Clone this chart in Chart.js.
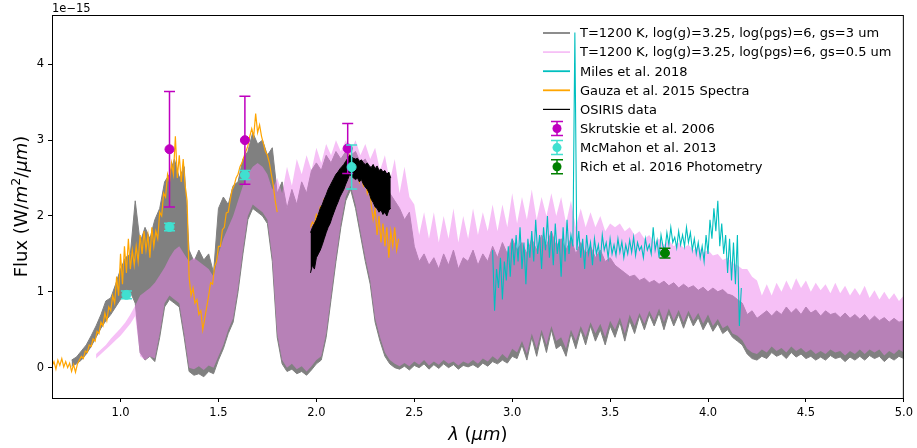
<!DOCTYPE html>
<html>
<head>
<meta charset="utf-8">
<script src="https://cdn.jsdelivr.net/npm/chart.js@4.4.1/dist/chart.umd.min.js"></script>
<style>
  html, body { margin: 0; padding: 0; background: #fff; }
  #wrap { width: 917px; height: 448px; }
</style>
</head>
<body>
<div id="wrap"><canvas id="spectrum" width="917" height="448"></canvas></div>
<script>
// flux in units of 1e-15 W/m^2/um, wavelength in um

// model grids (start wavelength, spacing)
const thickStart = 0.75, thinStart = 0.875, modelStep = 0.025;

// T=1200 K, gs=3 um model: upper / lower envelope of the spectrum
const thickHi = [
  0.10, 0.14, 0.22, 0.30, 0.42, 0.55, 0.70, 0.88, 0.92, 1.10,
  1.30, 1.45, 1.50, 2.20, 1.65, 1.85, 1.70, 1.95, 2.10, 2.45,
  2.55, 2.75, 2.50, 2.65, 1.55, 1.40, 1.55, 1.42, 1.50, 1.25,
  2.10, 2.25, 2.15, 2.40, 2.45, 2.75, 2.85, 3.10, 2.95, 3.00,
  2.80, 2.90, 2.30, 2.45, 2.10, 2.35, 2.15, 2.45, 2.30, 2.60,
  2.70, 2.60, 2.80, 2.70, 2.85, 2.75, 2.85, 2.80, 2.85, 2.70,
  2.75, 2.60, 2.65, 2.45, 2.50, 2.30, 2.20, 2.10, 1.95, 2.05,
  1.60, 1.40, 1.50, 1.35, 1.45, 1.30, 1.50, 1.35, 1.55, 1.30,
  1.45, 1.40, 1.55, 1.35, 1.50, 1.40, 1.60, 1.45, 1.65, 1.50,
  1.70, 1.55, 1.65, 1.50, 1.70, 1.55, 1.75, 1.60, 1.80, 1.60,
  1.70, 1.55, 1.70, 1.50, 1.65, 1.50, 1.60, 1.45, 1.55, 1.40,
  1.45, 1.35, 1.30, 1.25, 1.20, 1.22, 1.15, 1.18, 1.12, 1.15,
  1.10, 1.14, 1.08, 1.12, 1.05, 1.10, 1.05, 1.08, 1.02, 1.06,
  1.00, 1.05, 1.00, 1.03, 0.97, 0.95, 0.90, 0.85, 0.70, 0.75,
  0.65, 0.70, 0.75, 0.68, 0.75, 0.70, 0.80, 0.72, 0.78, 0.70,
  0.80, 0.72, 0.76, 0.68, 0.75, 0.70, 0.72, 0.66, 0.72, 0.65,
  0.70, 0.64, 0.70, 0.62, 0.68, 0.62, 0.66, 0.60, 0.65, 0.60,
  0.62
];
const thickLo = [
  0.02, 0.05, 0.10, 0.18, 0.28, 0.40, 0.52, 0.62, 0.70, 0.80,
  0.90, 0.95, 1.00, 0.85, 0.20, 0.10, 0.15, 0.08, 0.40, 0.80,
  0.90, 0.85, 0.80, 0.40, -0.05, -0.10, -0.08, -0.12, -0.05, -0.08,
  0.10, 0.25, 0.45, 0.60, 1.00, 1.50, 1.95, 2.10, 2.05, 2.00,
  1.90, 1.40, 0.40, 0.05, -0.05, -0.02, -0.08, -0.05, -0.10, -0.03,
  0.05, 0.10, 0.40, 0.90, 1.40, 1.85, 2.20, 2.35, 2.10, 1.75,
  1.40, 1.10, 0.60, 0.35, 0.15, 0.05, 0.00, -0.02, 0.02, -0.03,
  0.03, 0.00, 0.05, -0.02, 0.04, -0.01, 0.05, 0.00, 0.04, -0.02,
  0.03, 0.01, 0.04, 0.00, 0.06, 0.02, 0.08, 0.05, 0.10, 0.06,
  0.15, 0.12, 0.30, 0.10, 0.40, 0.15, 0.45, 0.20, 0.50, 0.25,
  0.30, 0.15, 0.45, 0.25, 0.50, 0.30, 0.55, 0.35, 0.50, 0.30,
  0.55, 0.40, 0.60, 0.35, 0.62, 0.45, 0.68, 0.50, 0.70, 0.55,
  0.72, 0.50, 0.72, 0.55, 0.70, 0.52, 0.70, 0.55, 0.66, 0.50,
  0.62, 0.48, 0.58, 0.45, 0.50, 0.40, 0.35, 0.30, 0.18, 0.12,
  0.10, 0.15, 0.12, 0.20, 0.15, 0.18, 0.12, 0.20, 0.14, 0.18,
  0.12, 0.15, 0.10, 0.14, 0.10, 0.16, 0.12, 0.14, 0.08, 0.14,
  0.10, 0.15, 0.10, 0.16, 0.12, 0.15, 0.08, 0.14, 0.10, 0.15,
  0.12
];

// T=1200 K, gs=0.5 um model
const thinHi = [
  0.18, 0.24, 0.30, 0.38, 0.45,
  0.52, 0.60, 0.70, 0.82, 0.95, 1.00, 1.05, 1.12, 1.22, 1.32,
  1.45, 1.55, 1.60, 1.50, 1.40, 1.45, 1.40, 1.35, 1.30, 1.20,
  1.50, 1.70, 1.85, 2.00, 2.20, 2.40, 2.55, 2.65, 2.70, 2.65,
  2.55, 2.35, 2.50, 2.30, 2.65, 2.40, 2.75, 2.55, 2.80, 2.60,
  2.90, 2.70, 2.95, 2.80, 3.00, 2.85, 3.00, 2.85, 3.00, 2.80,
  2.95, 2.75, 2.90, 2.60, 2.80, 2.45, 2.75, 2.30, 2.65, 2.25,
  2.15, 1.75, 2.05, 1.70, 2.05, 1.65, 2.00, 1.70, 2.10, 1.65,
  2.00, 1.70, 2.10, 1.75, 2.05, 1.80, 2.15, 1.80, 2.15, 1.85,
  2.30, 1.90, 2.25, 1.95, 2.35, 1.95, 2.25, 2.00, 2.30, 2.00,
  2.25, 1.90, 2.20, 1.85, 2.10, 1.85, 2.05, 1.85, 2.00, 1.80,
  1.90, 1.85, 1.90, 1.80, 1.85, 1.75, 1.80, 1.70, 1.75, 1.65,
  1.70, 1.62, 1.68, 1.60, 1.65, 1.58, 1.62, 1.55, 1.60, 1.52,
  1.55, 1.48, 1.50, 1.42, 1.45, 1.38, 1.35, 1.30, 1.30, 1.20,
  1.15, 0.95, 1.10, 0.95, 1.12, 1.00, 1.15, 1.02, 1.18, 1.05,
  1.15, 1.00, 1.12, 1.02, 1.10, 0.98, 1.12, 0.98, 1.08, 0.95,
  1.05, 0.95, 1.08, 0.92, 1.02, 0.90, 1.00, 0.90, 0.98, 0.88,
  0.95
];
const thinLo = [
  0.12, 0.18, 0.24, 0.30, 0.36,
  0.42, 0.50, 0.58, 0.68, 0.15, 0.10, 0.15, 0.12, 0.45, 0.85,
  0.95, 0.90, 0.85, 0.45, 0.00, -0.02, 0.02, -0.03, 0.03, 0.00,
  0.15, 0.30, 0.50, 0.65, 1.05, 1.55, 2.00, 2.15, 2.10, 2.05,
  1.95, 1.45, 0.45, 0.10, 0.00, 0.05, -0.02, 0.02, -0.05, 0.02,
  0.10, 0.15, 0.45, 0.95, 1.45, 1.90, 2.25, 2.40, 2.15, 1.80,
  1.45, 1.15, 0.65, 0.40, 0.20, 0.10, 0.05, 0.02, 0.06, 0.02,
  0.08, 0.04, 0.10, 0.03, 0.08, 0.04, 0.10, 0.05, 0.08, 0.03,
  0.08, 0.05, 0.10, 0.05, 0.12, 0.08, 0.15, 0.10, 0.18, 0.12,
  0.25, 0.20, 0.35, 0.18, 0.45, 0.25, 0.50, 0.30, 0.55, 0.35,
  0.40, 0.25, 0.50, 0.35, 0.55, 0.40, 0.60, 0.45, 0.58, 0.40,
  0.62, 0.50, 0.66, 0.45, 0.70, 0.55, 0.72, 0.58, 0.75, 0.62,
  0.78, 0.60, 0.78, 0.62, 0.76, 0.60, 0.75, 0.62, 0.72, 0.58,
  0.70, 0.55, 0.64, 0.52, 0.56, 0.45, 0.42, 0.36, 0.25, 0.20,
  0.18, 0.24, 0.20, 0.28, 0.22, 0.26, 0.20, 0.28, 0.22, 0.26,
  0.20, 0.24, 0.18, 0.22, 0.18, 0.24, 0.20, 0.22, 0.16, 0.22,
  0.18, 0.24, 0.18, 0.24, 0.20, 0.24, 0.16, 0.22, 0.18, 0.24,
  0.20
];

// Gauza et al. 2015 (0.65 - 2.42 um, 0.01 um bins, gap between J/H and K)
const gauzaStart = 0.65, gauzaStep = 0.01;
const gauzaFlux = [
  0.02, 0.08, -0.02, 0.10, 0.03, 0.12, 0.01, 0.08, 0.00, 0.06,
  -0.05, 0.04, -0.06, 0.05, 0.10, 0.15, 0.12, 0.22, 0.20, 0.30,
  0.28, 0.38, 0.35, 0.48, 0.45, 0.60, 0.55, 0.72, 0.62, 0.80,
  0.75, 0.95, 0.85, 1.20, 0.95, 1.50, 1.10, 1.60, 1.25, 1.70,
  1.30, 1.55, 1.35, 1.60, 1.40, 1.75, 1.50, 1.80, 1.55, 1.75,
  1.45, 1.85, 1.60, 1.80, 1.70, 2.05, 2.00, 2.30, 2.25, 2.55,
  2.45, 2.70, 2.55, 3.05, 2.50, 2.80, 2.45, 2.75, 2.40, 2.20,
  1.20, 0.95, 1.05, 0.85, 0.90, 0.70, 0.75, 0.50, 0.65, 0.80,
  0.95, 1.12, 1.10, 1.33, 1.40, 1.60, 1.60, 1.82, 1.85, 2.04,
  2.05, 2.21, 2.35, 2.40, 2.50, 2.55, 2.65, 2.70, 2.78, 2.85,
  2.92, 3.05, 3.15, 3.05, 3.35, 3.10, 3.20, 3.05, 2.95, 2.85,
  2.80, 2.70, 2.55, 2.40, 2.20, 2.05, null, null, null, null,
  null, null, null, null, null, null, null, null, null, null,
  null, null, 1.85, 1.92, 1.88, 2.02, 1.98, 2.12, 2.08, 2.22,
  2.18, 2.32, 2.28, 2.42, 2.38, 2.52, 2.48, 2.60, 2.56, 2.66,
  2.62, 2.74, 2.80, 2.62, 2.65, 2.55, 2.60, 2.45, 2.55, 2.40,
  2.50, 2.30, 2.40, 2.15, 1.95, 2.10, 1.75, 2.00, 1.65, 1.90,
  1.60, 1.85, 1.45, 1.80, 1.60, 1.85, 1.55, 1.70
];

// OSIRIS K-band spectrum, 1.97 - 2.38 um: spread of the data per bin
const osirisStart = 1.97, osirisStep = 0.01;
const osirisHi = [
  1.78, 1.85, 1.90, 1.95, 2.02, 2.10, 2.15, 2.22, 2.28, 2.35,
  2.40, 2.45, 2.50, 2.55, 2.58, 2.62, 2.65, 2.68, 2.72, 2.76,
  2.80, 2.78, 2.76, 2.75, 2.76, 2.72, 2.74, 2.70, 2.68, 2.70,
  2.66, 2.64, 2.68, 2.62, 2.66, 2.60, 2.62, 2.58, 2.60, 2.55,
  2.58, 2.50
];
const osirisLo = [
  1.25, 1.35, 1.30, 1.45, 1.50, 1.55, 1.62, 1.70, 1.78, 1.85,
  1.90, 1.98, 2.05, 2.12, 2.18, 2.25, 2.30, 2.35, 2.42, 2.48,
  2.55, 2.52, 2.50, 2.48, 2.50, 2.45, 2.48, 2.42, 2.38, 2.35,
  2.30, 2.22, 2.18, 2.12, 2.10, 2.05, 2.08, 2.02, 2.05, 2.00,
  2.08, 2.10
];

// Miles et al. 2018 L-band spectrum
const milesStart = 2.90, milesStep = 0.01;
const milesFlux = [
  1.55, 0.75, 1.30, 1.05, 1.45, 0.90, 1.40, 1.15, 1.60, 1.20,
  1.70, 1.35, 1.75, 1.40, 1.85, 1.30, 1.65, 1.10, 1.70, 1.45,
  1.80, 1.40, 1.95, 1.50, 1.75, 1.30, 1.85, 1.55, 2.00, 1.45,
  1.80, 1.35, 1.90, 1.50, 1.70, 1.20, 1.85, 1.40, 1.95, 1.50,
  1.75, 1.60, 4.42, 1.55, 1.80, 1.45, 1.70, 1.30, 1.75, 1.50,
  1.65, 1.35, 1.70, 1.50, 1.62, 1.40, 1.75, 1.55, 1.65, 1.45,
  1.70, 1.50, 1.62, 1.48, 1.70, 1.52, 1.66, 1.45, 1.62, 1.50,
  1.68, 1.52, 1.72, 1.48, 1.65, 1.55, 1.60, 1.45, 1.70, 1.55,
  1.62, 1.50, 1.85, 1.55, 1.68, 1.45, 1.75, 1.60, 1.55, 1.78,
  1.62, 1.85, 1.65, 1.72, 1.58, 1.80, 1.62, 1.75, 1.60, 1.85,
  1.65, 1.78, 1.55, 1.70, 1.50, 1.65, 1.45, 1.60, 1.40, 1.75,
  1.50, 1.95, 1.70, 2.10, 1.80, 2.20, 1.60, 1.90, 1.50, 1.75,
  1.25, 1.70, 1.15, 1.65, 1.10, 1.75, 0.55, 1.05
];

// photometry
const skrutskieWl = [1.25, 1.635, 2.16];
const skrutskieFlux = [2.88, 3.00, 2.89];
const skrutskieErr = [0.76, 0.58, 0.33];

const mcmahonWl = [1.03, 1.25, 1.635, 2.18];
const mcmahonFlux = [0.96, 1.855, 2.54, 2.645];
const mcmahonErr = [0.05, 0.05, 0.06, 0.29];

const richWl = [3.78];
const richFlux = [1.51];
const richErr = [0.065];

const xTicks = [1.0, 1.5, 2.0, 2.5, 3.0, 3.5, 4.0, 4.5, 5.0];
const yTicks = [0, 1, 2, 3, 4];

const legendNames = [
  'T=1200 K, log(g)=3.25, log(pgs)=6, gs=3 um',
  'T=1200 K, log(g)=3.25, log(pgs)=6, gs=0.5 um',
  'Miles et al. 2018',
  'Gauza et al. 2015 Spectra',
  'OSIRIS data',
  'Skrutskie et al. 2006',
  'McMahon et al. 2013',
  'Rich et al. 2016 Photometry'
];

const GRAY = '#808080';
const VIOLET = 'rgba(238, 130, 238, 0.5)';
const CYAN = '#00bfbf';
const ORANGE = '#ffa500';
const MAGENTA = '#bf00bf';
const TURQ = '#40e0d0';
const GREEN = '#008000';

// pair a regularly sampled flux array with its wavelengths
function sampled(start, step, values) {
  return values.map((v, i) => ({ x: +(start + i * step).toFixed(4), y: v }));
}
function points(xs, ys) {
  return xs.map((x, i) => ({ x: x, y: ys[i] }));
}

const lineDefaults = { pointRadius: 0, tension: 0, spanGaps: false };

// error bars are drawn just before their markers
const errorBars = {
  id: 'errorBars',
  beforeDatasetDraw(chart, args) {
    const ds = chart.data.datasets[args.index];
    if (!ds.yErr) return;
    const ctx = chart.ctx, xs = chart.scales.x, ys = chart.scales.y;
    ctx.save();
    ctx.strokeStyle = ds.backgroundColor;
    ctx.lineWidth = 1.5;
    ds.data.forEach((p, i) => {
      const px = xs.getPixelForValue(p.x);
      const top = ys.getPixelForValue(p.y + ds.yErr[i]);
      const bot = ys.getPixelForValue(p.y - ds.yErr[i]);
      ctx.beginPath();
      ctx.moveTo(px, top); ctx.lineTo(px, bot);
      ctx.moveTo(px - 5.5, top); ctx.lineTo(px + 5.5, top);
      ctx.moveTo(px - 5.5, bot); ctx.lineTo(px + 5.5, bot);
      ctx.stroke();
    });
    ctx.restore();
  }
};

function drawRuns(ctx, runs, cx, baseline) {
  let total = 0;
  runs.forEach(r => { ctx.font = r.font; r.w = ctx.measureText(r.text).width; total += r.w; });
  let x = cx - total / 2;
  runs.forEach(r => {
    ctx.font = r.font;
    ctx.fillText(r.text, x, baseline + (r.dy || 0));
    x += r.w;
  });
}

// frame, axis titles, offset text and legend
const decorations = {
  id: 'decorations',
  afterDraw(chart) {
    const ctx = chart.ctx, a = chart.chartArea;
    ctx.save();
    ctx.strokeStyle = '#000';
    ctx.lineWidth = 1;
    ctx.strokeRect(a.left + 0.5, a.top + 0.5, a.right - a.left - 1, a.bottom - a.top);

    ctx.fillStyle = '#000';
    ctx.textAlign = 'left';
    ctx.textBaseline = 'alphabetic';
    const up = '18px "DejaVu Sans"', it = 'italic 18px "DejaVu Sans"';

    drawRuns(ctx, [
      { text: 'λ', font: it },
      { text: ' (', font: up },
      { text: 'μm', font: it },
      { text: ')', font: up }
    ], (a.left + a.right) / 2, 440);

    ctx.save();
    ctx.translate(27, (a.top + a.bottom) / 2);
    ctx.rotate(-Math.PI / 2);
    drawRuns(ctx, [
      { text: 'Flux (W/', font: up },
      { text: 'm', font: it },
      { text: '2', font: '12.5px "DejaVu Sans"', dy: -7 },
      { text: '/', font: up },
      { text: 'μm', font: it },
      { text: ')', font: up }
    ], 0, 0);
    ctx.restore();

    ctx.font = '11.5px "DejaVu Sans"';
    ctx.fillText('1e\u221215', a.left, 12);

    // legend
    const styles = [
      { line: GRAY }, { line: VIOLET }, { line: CYAN }, { line: ORANGE }, { line: '#000' },
      { dot: MAGENTA }, { dot: TURQ }, { dot: GREEN }
    ];
    ctx.font = '13px "DejaVu Sans"';
    ctx.textBaseline = 'middle';
    legendNames.forEach((name, i) => {
      const y = 33 + i * 19.1;
      const s = styles[i];
      if (s.line) {
        ctx.strokeStyle = s.line;
        ctx.lineWidth = i === 4 ? 1.2 : 1.8;
        ctx.beginPath();
        ctx.moveTo(543, y); ctx.lineTo(570, y);
        ctx.stroke();
      } else {
        ctx.strokeStyle = s.dot;
        ctx.lineWidth = 1.5;
        ctx.beginPath();
        ctx.moveTo(557, y - 7); ctx.lineTo(557, y + 7);
        ctx.moveTo(551, y - 7); ctx.lineTo(563, y - 7);
        ctx.moveTo(551, y + 7); ctx.lineTo(563, y + 7);
        ctx.stroke();
        ctx.fillStyle = s.dot;
        ctx.beginPath();
        ctx.arc(557, y, 4.5, 0, Math.PI * 2);
        ctx.fill();
      }
      ctx.fillStyle = '#000';
      ctx.fillText(name, 580, y + 1);
    });
    ctx.restore();
  }
};

const tickFont = { family: 'DejaVu Sans', size: 11.5 };

new Chart(document.getElementById('spectrum'), {
  type: 'line',
  data: {
    datasets: [
      { ...lineDefaults, label: legendNames[0], data: sampled(thickStart, modelStep, thickHi),
        borderColor: GRAY, backgroundColor: GRAY, borderWidth: 1, fill: '+1', order: 20 },
      { ...lineDefaults, label: 'thick lower', data: sampled(thickStart, modelStep, thickLo),
        borderColor: GRAY, borderWidth: 1, fill: false, order: 19 },
      { ...lineDefaults, label: legendNames[1], data: sampled(thinStart, modelStep, thinHi),
        borderColor: VIOLET, backgroundColor: VIOLET, borderWidth: 0, fill: '+1', order: 18 },
      { ...lineDefaults, label: 'thin lower', data: sampled(thinStart, modelStep, thinLo),
        borderColor: VIOLET, borderWidth: 0, fill: false, order: 17 },
      { ...lineDefaults, label: legendNames[2], data: sampled(milesStart, milesStep, milesFlux),
        borderColor: CYAN, borderWidth: 1.1, fill: false, order: 16 },
      { ...lineDefaults, label: legendNames[3], data: sampled(gauzaStart, gauzaStep, gauzaFlux),
        borderColor: ORANGE, borderWidth: 1.2, fill: false, order: 15 },
      { ...lineDefaults, label: legendNames[4], data: sampled(osirisStart, osirisStep, osirisHi),
        borderColor: '#000', backgroundColor: '#000', borderWidth: 1, fill: '+1', order: 14 },
      { ...lineDefaults, label: 'osiris lower', data: sampled(osirisStart, osirisStep, osirisLo),
        borderColor: '#000', borderWidth: 1, fill: false, order: 13 },
      { type: 'scatter', label: legendNames[5], data: points(skrutskieWl, skrutskieFlux), yErr: skrutskieErr,
        backgroundColor: MAGENTA, borderColor: MAGENTA, pointRadius: 4.5, order: 3 },
      { type: 'scatter', label: legendNames[6], data: points(mcmahonWl, mcmahonFlux), yErr: mcmahonErr,
        backgroundColor: TURQ, borderColor: TURQ, pointRadius: 4.5, order: 2 },
      { type: 'scatter', label: legendNames[7], data: points(richWl, richFlux), yErr: richErr,
        backgroundColor: GREEN, borderColor: GREEN, pointRadius: 4.5, order: 1 }
    ]
  },
  options: {
    responsive: false,
    animation: false,
    devicePixelRatio: 1,
    layout: { padding: { left: 0, top: 15, right: 12, bottom: 0 } },
    plugins: { legend: { display: false }, tooltip: { enabled: false } },
    scales: {
      x: {
        type: 'linear', min: 0.65, max: 5.0,
        afterBuildTicks: s => { s.ticks = xTicks.map(v => ({ value: v })); },
        afterFit: s => { s.height = 50; },
        ticks: { callback: v => v.toFixed(1), font: tickFont, color: '#000', padding: 4, maxRotation: 0, autoSkip: false },
        grid: { drawOnChartArea: false, tickLength: 4, color: '#000' },
        border: { display: false }
      },
      y: {
        type: 'linear', min: -0.4, max: 4.65,
        afterBuildTicks: s => { s.ticks = yTicks.map(v => ({ value: v })); },
        afterFit: s => { s.width = 52; },
        ticks: { callback: v => String(v), font: tickFont, color: '#000', padding: 4 },
        grid: { drawOnChartArea: false, tickLength: 4, color: '#000' },
        border: { display: false }
      }
    }
  },
  plugins: [errorBars, decorations]
});
</script>
</body>
</html>
